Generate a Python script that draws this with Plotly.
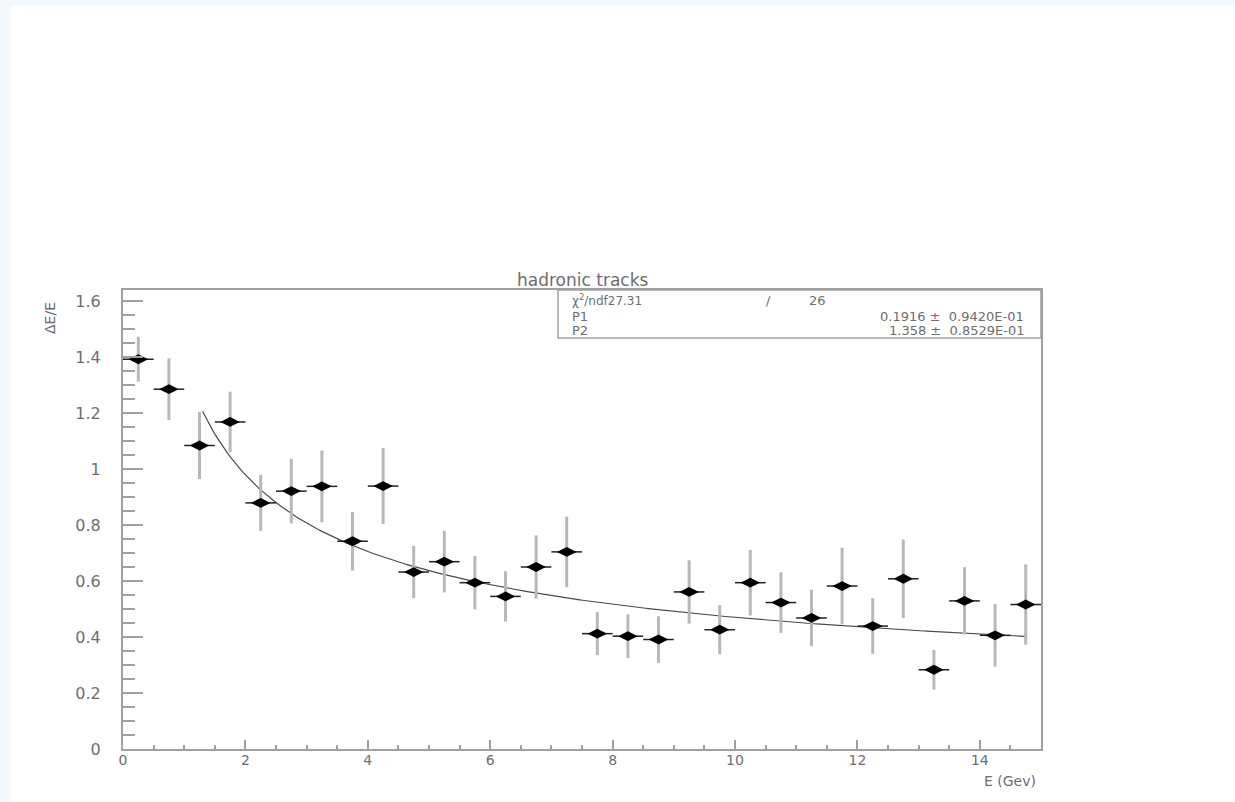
import numpy as np
import plotly.graph_objects as go

# Bin centres (GeV) and measured resolution dE/E with errors
energy = [0.25, 0.75, 1.25, 1.75, 2.25, 2.75, 3.25, 3.75, 4.25, 4.75,
          5.25, 5.75, 6.25, 6.75, 7.25, 7.75, 8.25, 8.75, 9.25, 9.75,
          10.25, 10.75, 11.25, 11.75, 12.25, 12.75, 13.25, 13.75, 14.25, 14.75]
resolution = [1.392, 1.285, 1.084, 1.168, 0.879, 0.921, 0.938, 0.742, 0.939, 0.632,
              0.669, 0.594, 0.545, 0.650, 0.704, 0.412, 0.403, 0.391, 0.561, 0.426,
              0.594, 0.523, 0.468, 0.582, 0.439, 0.608, 0.283, 0.529, 0.406, 0.516]
res_err = [0.080, 0.110, 0.120, 0.108, 0.100, 0.115, 0.128, 0.105, 0.136, 0.093,
           0.110, 0.095, 0.090, 0.113, 0.126, 0.077, 0.078, 0.083, 0.113, 0.088,
           0.117, 0.108, 0.101, 0.137, 0.099, 0.140, 0.071, 0.120, 0.112, 0.143]
half_bin = [0.25] * len(energy)

# Fit results: dE/E = sqrt(P1^2 + P2^2 / E)
chi2 = "27.31"
ndf = "26"
p1, p1_err = 0.1916, "0.9420E-01"
p2, p2_err = 1.358, "0.8529E-01"
fit_lo, fit_hi = 1.3, 14.75

x_ticks = [0, 2, 4, 6, 8, 10, 12, 14]
y_ticks = [0, 0.2, 0.4, 0.6, 0.8, 1.0, 1.2, 1.4, 1.6]
y_tick_text = ["0", "0.2", "0.4", "0.6", "0.8", "1", "1.2", "1.4", "1.6"]

e_fit = np.linspace(fit_lo, fit_hi, 300)
r_fit = np.sqrt(p1 ** 2 + p2 ** 2 / e_fit)

W, H = 1235, 802
L, R, T, B = 123, 1041, 290, 749  # plot frame in pixels


def px(x):
    return (x - L) / (R - L)


def py(y):
    return (B - y) / (B - T)


TXT = "#6e6e6e"
AX = "#a0a0a0"
FONT = "DejaVu Sans"

fig = go.Figure()

fig.add_trace(go.Scatter(
    x=e_fit, y=r_fit, mode="lines",
    line=dict(color="#4a4a4a", width=1.2),
    hoverinfo="skip", showlegend=False,
))

fig.add_trace(go.Scatter(
    x=energy, y=resolution, mode="markers",
    marker=dict(symbol="diamond-wide", size=14, color="black"),
    error_y=dict(type="data", array=res_err, visible=True,
                 color="#b8b8b8", thickness=3, width=0),
    error_x=dict(type="data", array=half_bin, visible=True,
                 color="#222222", thickness=1.5, width=0),
    showlegend=False,
))

axis_common = dict(
    showgrid=False, zeroline=False, showline=True, linecolor=AX, linewidth=2,
    mirror=True, ticks="inside", tickcolor=AX, tickwidth=1.5,
)

fig.update_xaxes(
    range=[0, 15], tickvals=x_ticks, ticklen=9,
    minor=dict(ticks="inside", dtick=0.5, ticklen=4, tickcolor=AX, tickwidth=1.5),
    ticklabelstandoff=-3,
    tickfont=dict(family=FONT, size=14, color=TXT),
    **axis_common,
)
fig.update_yaxes(
    range=[0, (B - T) / 280.0], tickvals=y_ticks, ticktext=y_tick_text, ticklen=20,
    minor=dict(ticks="inside", dtick=0.05, ticklen=12, tickcolor=AX, tickwidth=1.5),
    ticklabelstandoff=17,
    tickfont=dict(family=FONT, size=16, color=TXT),
    **axis_common,
)

shapes = [
    # page margin strips
    dict(type="rect", xref="paper", yref="paper", x0=px(0), x1=px(W), y0=py(0), y1=py(6),
         fillcolor="#f3f8fc", line=dict(width=0), layer="below"),
    dict(type="rect", xref="paper", yref="paper", x0=px(0), x1=px(10), y0=py(0), y1=py(H),
         fillcolor="#f3f8fc", line=dict(width=0), layer="below"),
    # statistics box
    dict(type="rect", xref="paper", yref="paper", x0=px(558), x1=px(R), y0=py(338), y1=py(T),
         fillcolor="white", line=dict(color=AX, width=1.5), layer="above"),
]


def note(text, x, y, anchor="left", size=15, angle=0):
    return dict(text=text, xref="paper", yref="paper", x=px(x), y=py(y),
                xanchor=anchor, yanchor="middle", showarrow=False, textangle=angle,
                font=dict(family=FONT, size=size, color=TXT))


annotations = [
    note("hadronic tracks", 583, 280, anchor="center", size=17),
    note("χ<sup>2</sup>/ndf" + chi2, 570, 300, size=12),
    note("/", 768, 300, anchor="center", size=13),
    note(ndf, 817, 300, anchor="center", size=13),
    note("P1", 570, 316, size=13),
    note(f"{p1:.4f} ±  {p1_err}", 1026, 316, anchor="right", size=13),
    note("P2", 570, 330, size=13),
    note(f"{p2:.3f} ±  {p2_err}", 1026, 330, anchor="right", size=13),
    note("E (Gev)", 1038, 781, anchor="right", size=14),
    note("ΔE/E", 50, 318, anchor="center", size=14, angle=-90),
]

fig.update_layout(
    width=W, height=H,
    margin=dict(l=L, r=W - R, t=T, b=H - B, pad=0),
    paper_bgcolor="white", plot_bgcolor="white",
    shapes=shapes, annotations=annotations,
    showlegend=False,
)

fig.write_html("out.html")
